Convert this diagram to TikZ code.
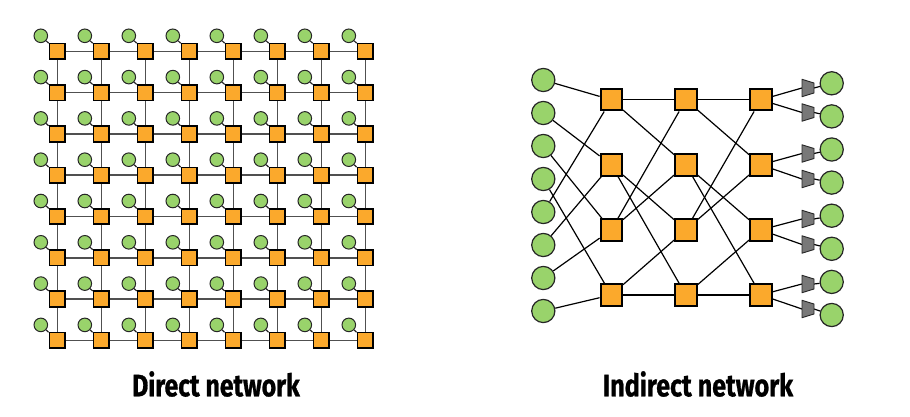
\documentclass[tikz,border=0pt]{standalone}
\usepackage{fontspec}
\setmainfont{Fira Sans}
\newfontfamily\labfont[BoldFeatures={FakeBold=1.0}]{Fira Sans}
\usetikzlibrary{backgrounds}
\definecolor{nodegreen}{HTML}{99D36B}
\definecolor{nodeorange}{HTML}{FBA92C}
\definecolor{gridgray}{HTML}{505050}
\definecolor{trapgray}{HTML}{787878}
\begin{document}
\begin{tikzpicture}[x=1pt,y=-1pt,
  dsq/.style={draw=black, line width=1.7pt, fill=nodeorange, minimum size=15.6pt, inner sep=0pt},
  dcirc/.style={circle, draw=black!85, line width=1pt, fill=nodegreen, minimum size=13.6pt, inner sep=0pt},
  gridline/.style={draw=gridgray, line width=1.5pt},
  dlink/.style={draw=black!85, line width=1.2pt},
  isq/.style={draw=black, line width=2pt, fill=nodeorange, minimum size=21.4pt, inner sep=0pt},
  icirc/.style={circle, draw=black!85, line width=1.2pt, fill=nodegreen, minimum size=23.2pt, inner sep=0pt},
  ilink/.style={draw=black, line width=1.2pt},
  trapbody/.style={draw=black!85, line width=0.9pt, fill=trapgray, line join=round},
  lab/.style={font=\labfont\bfseries\fontsize{31}{34}\selectfont, inner sep=0pt}
]
\useasboundingbox (0,0) rectangle (910,417);

% ---------- Direct network ----------
\foreach \i in {0,...,7}{
  \foreach \j in {0,...,7}{
    \node[dsq] (q-\i-\j) at ({57.3+44*\i},{51.3+41.3*\j}) {};
    \node[dcirc] (c-\i-\j) at ({57.3+44*\i-16.5},{51.3+41.3*\j-15.5}) {};
  }
}
\begin{scope}[on background layer]
  \foreach \j in {0,...,7} \draw[gridline] (q-0-\j) -- (q-7-\j);
  \foreach \i in {0,...,7} \draw[gridline] (q-\i-0) -- (q-\i-7);
  \foreach \i in {0,...,7}{
    \foreach \j in {0,...,7} \draw[dlink] (c-\i-\j) -- (q-\i-\j);
  }
\end{scope}

% ---------- Indirect network ----------
\foreach \i in {0,...,7}
  \node[icirc] (in\i) at (543.3,{80+33*\i}) {};
\foreach \k/\x in {1/611.3,2/685.8,3/760.8}{
  \foreach \j in {0,...,3}
    \node[isq] (s\k-\j) at (\x,{99.8+65.05*\j}) {};
}
% trapezoid amplifiers
\foreach \i/\y in {0/88,1/112.5,2/153.5,3/179,4/219,5/244.5,6/284,7/309}{
  \coordinate (tl\i) at (802,\y);
  \coordinate (tr\i) at (814,\y);
  \draw[trapbody] (802,{\y-8.7}) -- (814,{\y-5}) -- (814,{\y+5}) -- (802,{\y+8.7}) -- cycle;
}
\foreach \i in {0,...,7}
  \node[icirc] (out\i) at (831.7,{83.3+33.1*\i}) {};

\begin{scope}[on background layer]
  \foreach \i in {0,...,7}{
    \pgfmathtruncatemacro{\m}{mod(\i,4)}
    \draw[ilink] (in\i) -- (s1-\m);
  }
  \foreach \k in {1,2}{
    \pgfmathtruncatemacro{\n}{\k+1}
    \foreach \j in {0,...,3}{
      \pgfmathtruncatemacro{\pa}{2*mod(\j,2)}
      \pgfmathtruncatemacro{\pb}{2*mod(\j,2)+1}
      \draw[ilink] (s\k-\j) -- (s\n-\pa);
      \draw[ilink] (s\k-\j) -- (s\n-\pb);
    }
  }
  \foreach \j in {0,...,3}{
    \pgfmathtruncatemacro{\pa}{2*\j}
    \pgfmathtruncatemacro{\pb}{2*\j+1}
    \draw[ilink] (s3-\j) -- (tl\pa);
    \draw[ilink] (s3-\j) -- (tl\pb);
  }
  \foreach \i in {0,...,7}
    \draw[ilink] (tr\i) -- (out\i);
\end{scope}

% ---------- Labels ----------
\node[lab] (l1) at (216,384) {\scalebox{0.80}[1]{Direct network}};
\node[lab] (l2) at (698,384) {\scalebox{0.81}[1]{Indirect network}};
\end{tikzpicture}
\end{document}
